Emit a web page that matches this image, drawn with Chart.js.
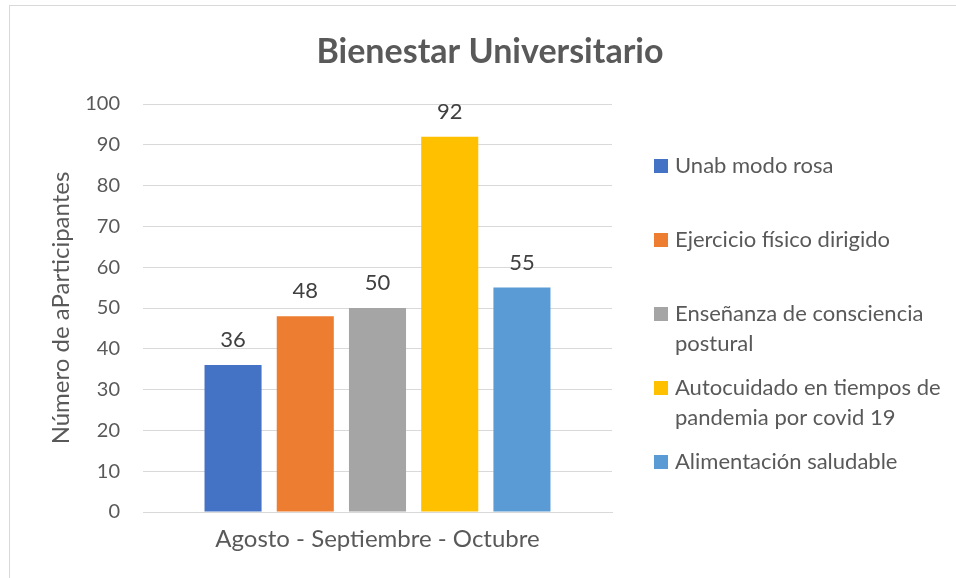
<!DOCTYPE html>
<html>
<head>
<meta charset="utf-8">
<script src="https://cdn.jsdelivr.net/npm/chart.js@4"></script>
<style>
  body { margin: 0; background: #fff; }
  #wrap { position: relative; width: 956px; height: 578px; }
  #frame { position: absolute; left: 9px; top: 5px; right: 0; bottom: 0;
           border-left: 1px solid #d9d9d9; border-top: 1px solid #d9d9d9; pointer-events: none; }
</style>
</head>
<body>
<div id="wrap">
  <canvas id="chart" width="956" height="578"></canvas>
  <div id="frame"></div>
</div>
<script>
const categories = ["Agosto - Septiembre - Octubre"];
const seriesNames = [
  "Unab modo rosa",
  "Ejercicio físico dirigido",
  "Enseñanza de consciencia postural",
  "Autocuidado en tiempos de pandemia por covid 19",
  "Alimentación saludable"
];
// legend text as Excel wraps it
const legendLines = [
  ["Unab modo rosa"],
  ["Ejercicio físico dirigido"],
  ["Enseñanza de consciencia", "postural"],
  ["Autocuidado en tiempos de", "pandemia por covid 19"],
  ["Alimentación saludable"]
];
const seriesValues = [[36], [48], [50], [92], [55]];
const seriesColors = ["#4472C4", "#ED7D31", "#A5A5A5", "#FFC000", "#5B9BD5"];
const yTicks = [0, 10, 20, 30, 40, 50, 60, 70, 80, 90, 100];

const FONT = "Lato, 'Open Sans', sans-serif";
const TEXT = "#595959";

// value labels above each bar
const valueLabels = {
  id: "valueLabels",
  afterDatasetsDraw(chart) {
    const ctx = chart.ctx;
    ctx.save();
    ctx.font = "22px " + FONT;
    ctx.fillStyle = "#404040";
    ctx.textAlign = "center";
    ctx.textBaseline = "alphabetic";
    chart.data.datasets.forEach((ds, i) => {
      chart.getDatasetMeta(i).data.forEach((bar, j) => {
        ctx.fillText(ds.data[j], bar.x, bar.y - 18);
      });
    });
    ctx.restore();
  }
};

// title + right-hand legend drawn like Excel does it
const decorations = {
  id: "decorations",
  afterDraw(chart) {
    const ctx = chart.ctx;
    ctx.save();
    ctx.fillStyle = TEXT;
    ctx.textAlign = "center";
    ctx.textBaseline = "middle";
    ctx.font = "bold 34px " + FONT;
    ctx.fillText("Bienestar Universitario", 490, 52);

    const firstLine = [166, 240, 314, 388, 462];
    ctx.font = "22px " + FONT;
    ctx.textAlign = "left";
    legendLines.forEach((lines, i) => {
      ctx.fillStyle = seriesColors[i];
      ctx.fillRect(654, firstLine[i] - 7, 14, 14);
      ctx.fillStyle = TEXT;
      lines.forEach((t, k) => ctx.fillText(t, 675, firstLine[i] + k * 30));
    });
    ctx.restore();
  }
};

new Chart(document.getElementById("chart"), {
  type: "bar",
  data: {
    labels: categories,
    datasets: seriesNames.map((name, i) => ({
      label: name,
      data: seriesValues[i],
      backgroundColor: seriesColors[i],
      barPercentage: 0.79,
      categoryPercentage: 0.77
    }))
  },
  options: {
    responsive: false,
    animation: false,
    layout: { padding: { left: 40, right: 344, top: 104, bottom: 10 } },
    plugins: {
      legend: { display: false },
      title: { display: false },
      tooltip: { enabled: false }
    },
    scales: {
      x: {
        grid: { display: false },
        border: { color: "#d9d9d9", width: 1 },
        ticks: { color: TEXT, font: { family: FONT, size: 24 }, padding: 5 },
        afterFit(scale) { scale.height = 56; }
      },
      y: {
        min: 0,
        max: 100,
        afterBuildTicks(scale) { scale.ticks = yTicks.map(v => ({ value: v })); },
        grid: { color: "#d9d9d9", lineWidth: 1, drawTicks: false },
        border: { display: false },
        ticks: { color: TEXT, font: { family: FONT, size: 20 }, padding: 23 },
        title: {
          display: true,
          text: "Número de aParticipantes",
          color: TEXT,
          font: { family: FONT, size: 24 },
          padding: { top: 7 }
        },
        afterFit(scale) { scale.width = 103; }
      }
    }
  },
  plugins: [valueLabels, decorations]
});
</script>
</body>
</html>
